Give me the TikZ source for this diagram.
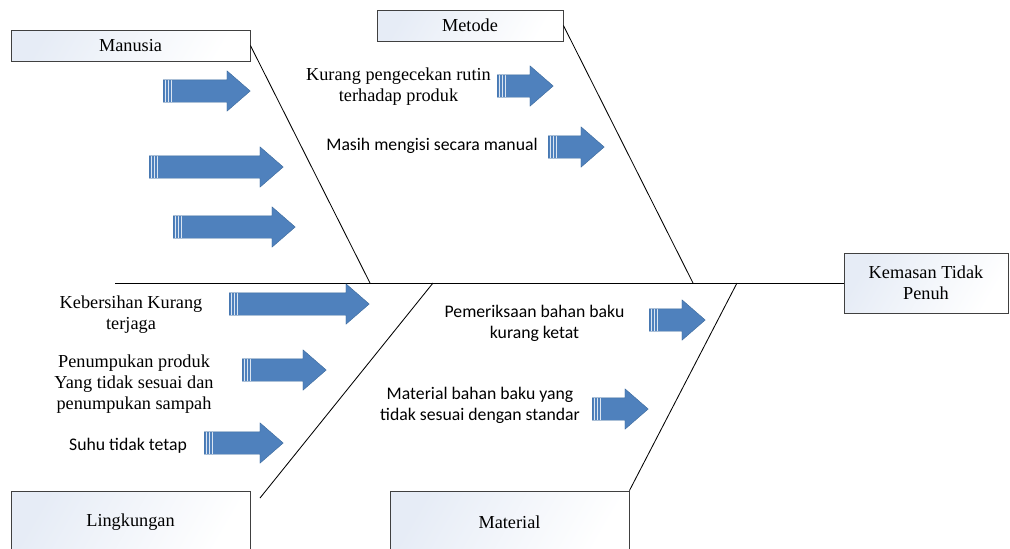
\documentclass[tikz,border=0pt]{standalone}
\usepackage{fontspec}
\setmainfont{Liberation Serif}
\setsansfont{Carlito}
\usetikzlibrary{shapes.arrows,positioning}
\definecolor{arrowblue}{HTML}{4F81BD}
\definecolor{arrowedge}{HTML}{3C6A9C}
\definecolor{boxtint}{HTML}{E6ECF6}

\begin{document}
\begin{tikzpicture}[x=0.25mm, y=-0.25mm, line width=0.6pt,
	catbox/.style={draw=black!75, left color=boxtint, right color=white, shading angle=60, align=center, inner sep=0pt, font=\fontsize{13}{15}\selectfont},
	causearrow/.style={single arrow, fill=arrowblue, draw=arrowedge, line width=0.3pt, inner xsep=0pt, inner ysep=2.75mm, minimum width=0pt, single arrow head extend=2.25mm, single arrow tip angle=82, anchor=tail,
		path picture={\foreach \s in {2.5,5,8} \draw[white!80!arrowblue, line width=0.5pt] ([xshift=\s*0.25mm]path picture bounding box.north west) -- ([xshift=\s*0.25mm]path picture bounding box.south west);}},
	serifnote/.style={align=center, font=\fontsize{13}{15}\selectfont},
	sansnote/.style={align=center, font=\sffamily\fontsize{12.6}{15}\selectfont}]
	\useasboundingbox (0,0) rectangle (1010,548);
	% categories and effect
	\node [catbox, minimum width=239*0.25mm, minimum height=31*0.25mm] (manusia) at (130.5,45.5) {Manusia};
	\node [catbox, minimum width=186*0.25mm, minimum height=31*0.25mm] (metode) at (470,25.5) {Metode};
	\node [catbox, minimum width=164*0.25mm, minimum height=60*0.25mm] (kemasan) at (926,283) {Kemasan Tidak\\Penuh};
	\node [catbox, minimum width=239*0.25mm, minimum height=62*0.25mm] (lingkungan) at (130.5,522) {Lingkungan};
	\node [catbox, minimum width=239*0.25mm, minimum height=62*0.25mm] (material) at (509.5,522) {Material};
	% spine and bones
	\coordinate (tail) at (115,283);
	\coordinate (jm) at (370,283);
	\coordinate (jk) at (693,283);
	\coordinate (jl) at (433,283);
	\coordinate (jb) at (737,283);
	\coordinate (lend) at (260,498);
	\draw (tail) -- (kemasan.west);
	\draw (manusia.east) -- (jm);
	\draw (metode.east) -- (jk);
	\draw (jl) -- (lend);
	\draw (jb) -- (material.north east);
	% causes
	\node [serifnote] (rutin) at (398.5,86.5) {Kurang pengecekan rutin\\terhadap produk};
	\node [sansnote] (manual) at (432,146) {Masih mengisi secara manual};
	\node [serifnote] (bersih) at (131,314.5) {Kebersihan Kurang\\terjaga};
	\node [serifnote] (tumpuk) at (134,384.5) {Penumpukan produk\\Yang tidak sesuai dan\\penumpukan sampah};
	\node [sansnote] (suhu) at (128,446) {Suhu tidak tetap};
	\node [sansnote] (periksa) at (534.5,323) {Pemeriksaan bahan baku\\kurang ketat};
	\node [sansnote] (standar) at (480,405) {Material bahan baku yang\\tidak sesuai dengan standar};
	% block arrows
	\foreach \nm/\xt/\xh/\yy in {m1/163/250/91, m2/149/283/167, m3/173/295/227,
		k1/497/553/86, k2/548/604/147,
		l1/229/369/304, l2/242/326/370, l3/204/283/443,
		b1/649/705/320, b2/592/648/409}
		\node [causearrow, minimum height={(\xh-\xt)*0.25mm}] (\nm) at (\xt,\yy) {};
\end{tikzpicture}
\end{document}
